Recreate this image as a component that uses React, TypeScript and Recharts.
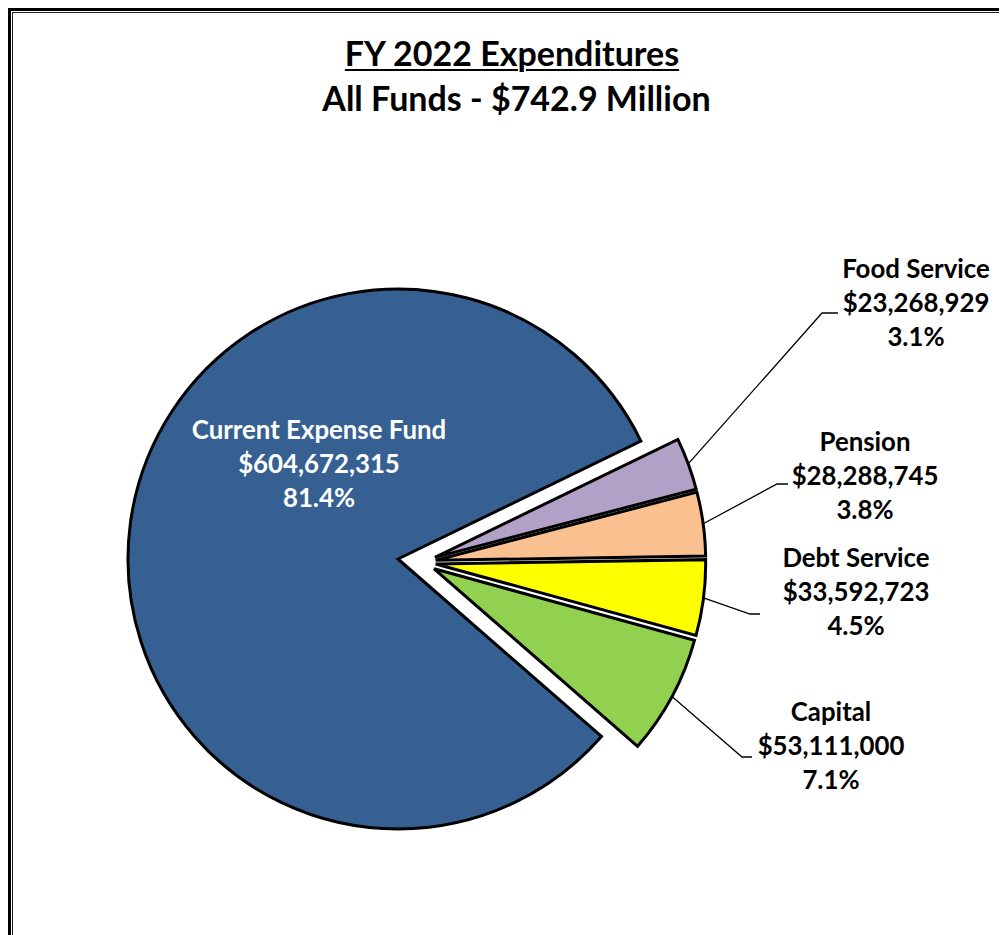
import React from 'react';
import { PieChart, Pie, Cell, Sector } from 'recharts';

// ---------- data ----------
const categories = ['Current Expense Fund', 'Food Service', 'Pension', 'Debt Service', 'Capital'];
const amounts = [604672315, 23268929, 28288745, 33592723, 53111000];
const titleLine1 = 'FY 2022 Expenditures';
const titleLine2 = 'All Funds - $742.9 Million';

// ---------- style / layout config ----------
const sliceColors = ['#366092', '#B2A1C7', '#FAC090', '#FFFF00', '#92D050'];
const FONT = 'Lato, "Open Sans", sans-serif';
const W = 999;
const H = 927;
const CX = 390;
const CY = 551;
const R = 270;
const START_ANGLE = -41.1;
const GROUP_EXPLODE = 24;
const SLICE_EXPLODE = 14;
const LINE_GAP = 34;
const LABEL_FONT = 25.8;

// label layout, relative to the pie centre: text block centre, leader elbow, elbow end x
const labelLayout = [
  { tx: -79, ty: -96 },
  { tx: 518, ty: -257, ex: 424, ey: -246, hx: 440 },
  { tx: 467, ty: -84, ex: 379, ey: -75, hx: 390 },
  { tx: 458, ty: 32, ex: 352, ey: 55, hx: 362 },
  { tx: 433, ty: 186, ex: 344, ey: 198, hx: 354 },
];

const total = amounts.reduce((a, b) => a + b, 0);
const data = categories.map((name, i) => ({ name, value: amounts[i] }));
const fmtMoney = (v: number) => '$' + v.toLocaleString('en-US');
const fmtPct = (v: number) => ((v / total) * 100).toFixed(1) + '%';

const RAD = Math.PI / 180;
const mainFrac = amounts[0] / total;
const groupMid = START_ANGLE - 180 * (1 + mainFrac);

function explodeOffset(index: number, midAngle: number) {
  if (index === 0) return { dx: 0, dy: 0 };
  const dx = GROUP_EXPLODE * Math.cos(groupMid * RAD) + SLICE_EXPLODE * Math.cos(midAngle * RAD);
  const dy = -(GROUP_EXPLODE * Math.sin(groupMid * RAD) + SLICE_EXPLODE * Math.sin(midAngle * RAD));
  return { dx, dy };
}

function indexOf(props: any) {
  if (typeof props.index === 'number') return props.index;
  return categories.indexOf(props.name ?? props.payload?.name);
}

const ExplodedSector = (props: any) => {
  const i = indexOf(props);
  const { dx, dy } = explodeOffset(i, props.midAngle);
  return (
    <Sector
      cx={props.cx + dx}
      cy={props.cy + dy}
      innerRadius={0}
      outerRadius={props.outerRadius}
      startAngle={props.startAngle}
      endAngle={props.endAngle}
      fill={sliceColors[i]}
      stroke="#000"
      strokeWidth={3}
    />
  );
};

const renderLabel = (props: any) => {
  const i = indexOf(props);
  const cfg = labelLayout[i];
  const cx = props.cx;
  const cy = props.cy;
  const lines = [categories[i], fmtMoney(amounts[i]), fmtPct(amounts[i])];
  const color = i === 0 ? '#FFFFFF' : '#000000';
  const text = (
    <text
      x={cx + cfg.tx}
      y={cy + cfg.ty}
      textAnchor="middle"
      fill={color}
      fontFamily={FONT}
      fontWeight="bold"
      fontSize={LABEL_FONT}
    >
      {lines.map((l, k) => (
        <tspan key={k} x={cx + cfg.tx} y={cy + cfg.ty + (k - 1) * LINE_GAP} dominantBaseline="central">
          {l}
        </tspan>
      ))}
    </text>
  );
  if (i === 0) return <g key={`lbl-${i}`}>{text}</g>;
  const { dx, dy } = explodeOffset(i, props.midAngle);
  const sx = cx + dx + props.outerRadius * Math.cos(props.midAngle * RAD);
  const sy = cy + dy - props.outerRadius * Math.sin(props.midAngle * RAD);
  const ex = cx + (cfg.ex as number);
  const ey = cy + (cfg.ey as number);
  const hx = cx + (cfg.hx as number);
  return (
    <g key={`lbl-${i}`}>
      <polyline points={`${sx},${sy} ${ex},${ey} ${hx},${ey}`} fill="none" stroke="#000" strokeWidth={1.3} />
      {text}
    </g>
  );
};

export default function App() {
  return (
    <div style={{ position: 'relative', width: W, height: H, overflow: 'hidden', background: '#fff' }}>
      <style>{`html,body{overflow:hidden;}`}</style>
      <div style={{ position: 'absolute', left: 0, top: 0, width: 3, height: H, background: '#000' }} />
      <div style={{ position: 'absolute', left: 0, top: 0, width: W, height: 3, background: '#000' }} />
      <div style={{ position: 'absolute', left: 4, top: 4, width: 1, height: H, background: '#222' }} />
      <div style={{ position: 'absolute', left: 4, top: 4, width: W, height: 1, background: '#222' }} />
      <div style={{ position: 'absolute', left: 0, top: 0 }}>
        <PieChart width={W} height={H} margin={{ top: 0, right: 0, bottom: 0, left: 0 }}>
          <Pie
            data={data}
            dataKey="value"
            nameKey="name"
            cx={CX}
            cy={CY}
            innerRadius={0}
            outerRadius={R}
            startAngle={START_ANGLE}
            endAngle={START_ANGLE - 360}
            stroke="#000"
            strokeWidth={3}
            shape={ExplodedSector}
            label={renderLabel}
            labelLine={false}
            isAnimationActive={false}
          >
            {data.map((d, i) => (
              <Cell key={d.name} fill={sliceColors[i]} />
            ))}
          </Pie>
        </PieChart>
      </div>
      <div
        style={{
          position: 'absolute',
          left: 4,
          width: 1000,
          top: 22,
          textAlign: 'center',
          fontFamily: FONT,
          fontWeight: 'bold',
          fontSize: 34,
          lineHeight: '45px',
          color: '#000',
        }}
      >
        <div style={{ textDecoration: 'underline', textDecorationThickness: 2, textUnderlineOffset: 3 }}>{titleLine1}</div>
        <div style={{ paddingLeft: 9 }}>{titleLine2}</div>
      </div>
    </div>
  );
}
